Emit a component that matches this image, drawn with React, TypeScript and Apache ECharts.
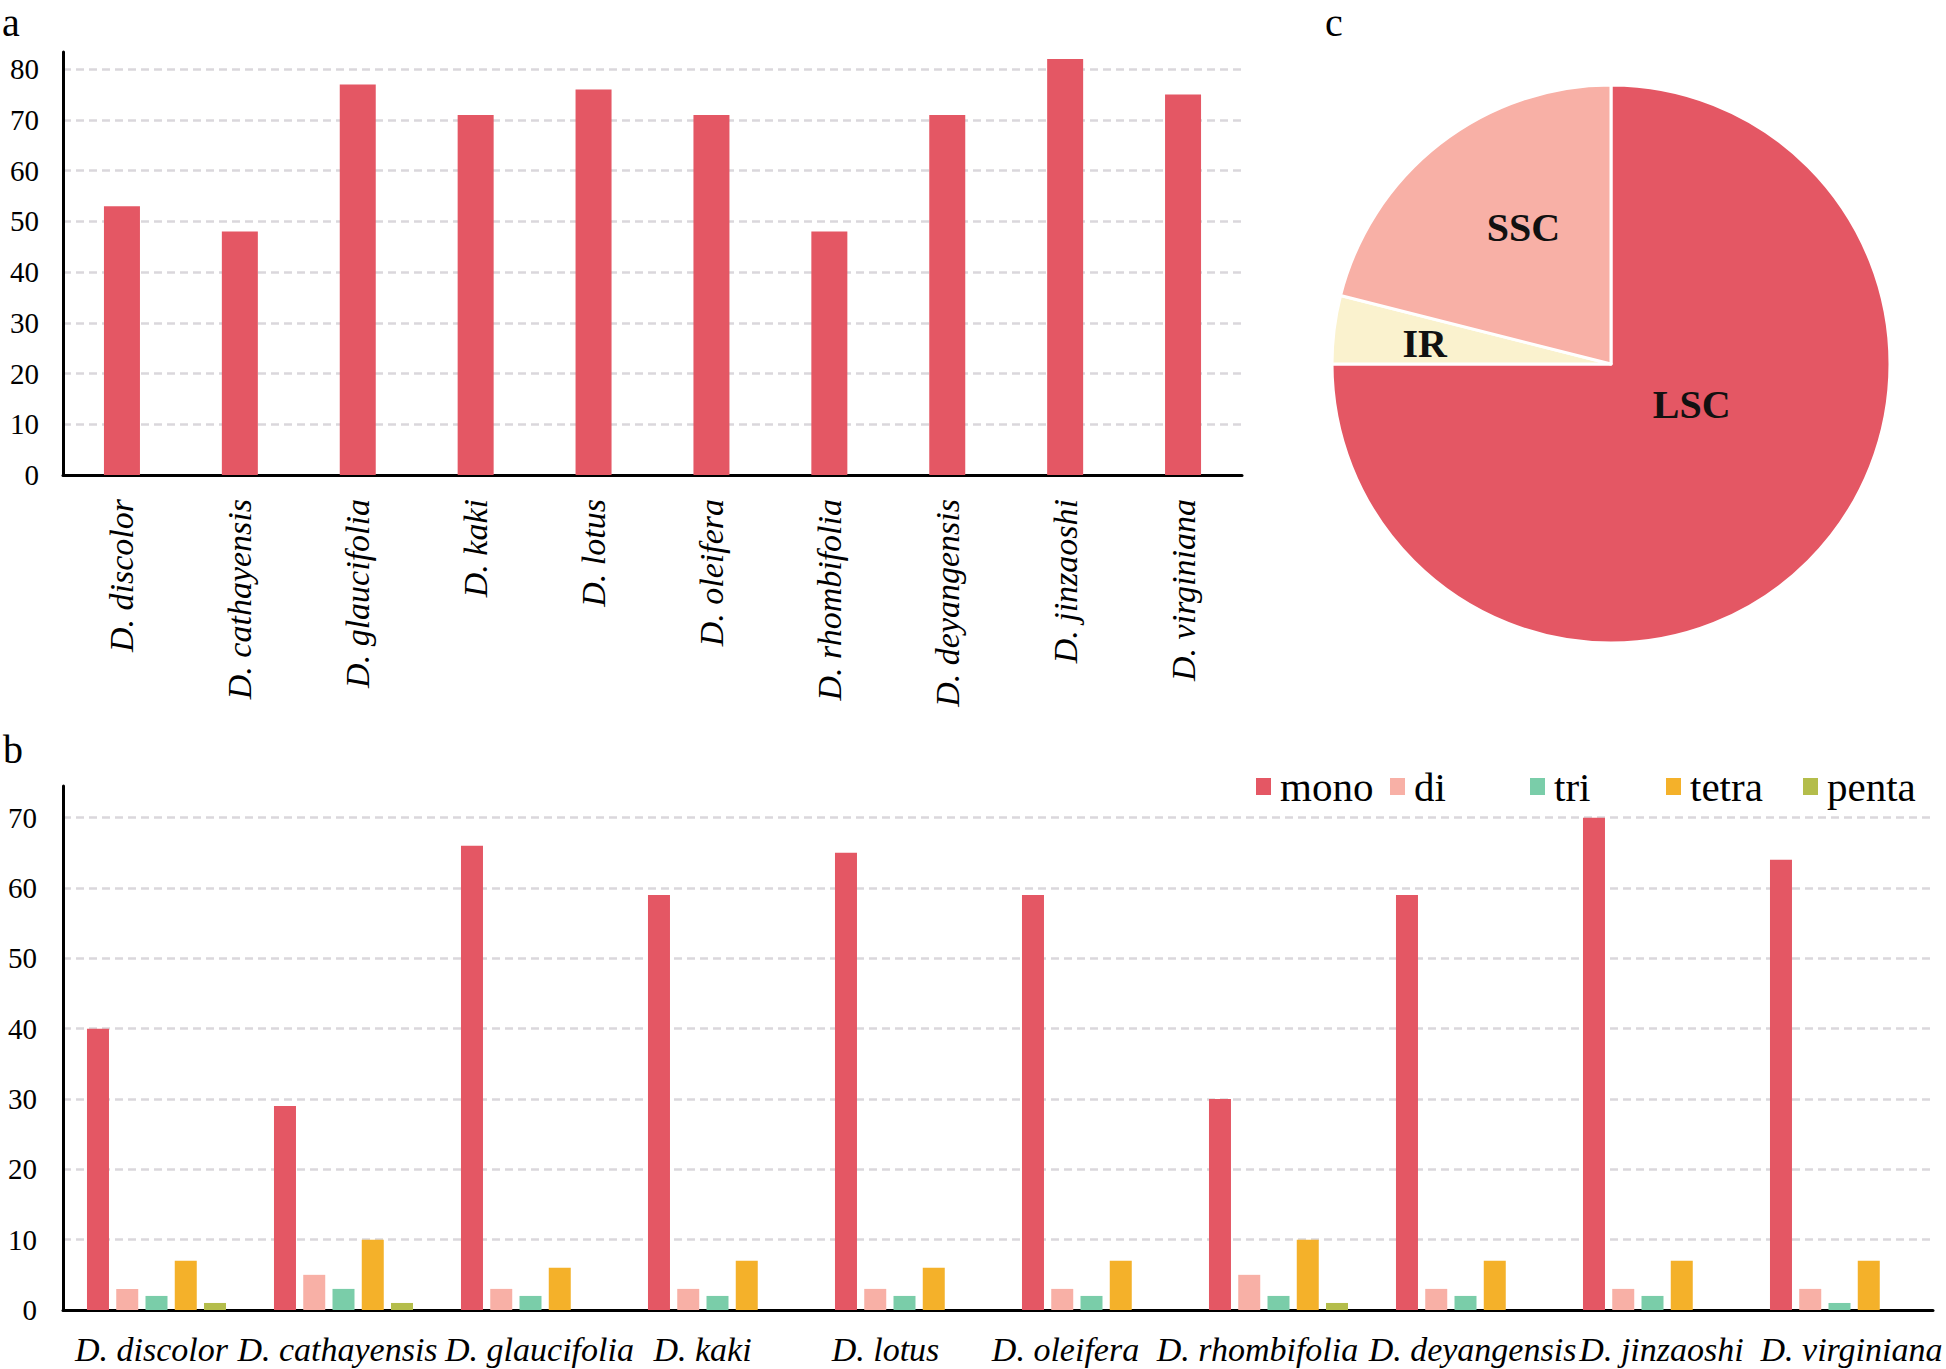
import React, { useEffect, useRef } from 'react';
import * as echarts from 'echarts';

const species = [
  'D. discolor', 'D. cathayensis', 'D. glaucifolia', 'D. kaki', 'D. lotus',
  'D. oleifera', 'D. rhombifolia', 'D. deyangensis', 'D. jinzaoshi', 'D. virginiana',
];
const totalSSR = [53, 48, 77, 71, 76, 71, 48, 71, 82, 75];
const mono = [40, 29, 66, 59, 65, 59, 30, 59, 70, 64];
const di = [3, 5, 3, 3, 3, 3, 5, 3, 3, 3];
const tri = [2, 3, 2, 2, 2, 2, 2, 2, 2, 1];
const tetra = [7, 10, 6, 7, 6, 7, 10, 7, 7, 7];
const penta = [1, 1, 0, 0, 0, 0, 1, 0, 0, 0];
const motifNames = ['mono', 'di', 'tri', 'tetra', 'penta'];
const regionNames = ['LSC', 'IR', 'SSC'];
const regionValues = [57, 3, 16];
const panelLetters = ['a', 'b', 'c'];

const FONT = 'Liberation Serif';
const C_MONO = '#E45764';
const C_DI = '#F8B0A6';
const C_TRI = '#7ACDA9';
const C_TETRA = '#F4B12A';
const C_PENTA = '#B4BD4B';
const C_IR = '#FAF2CE';
const GRID_LINE = { show: true, showMaxLine: false, lineStyle: { color: '#DAD7DC', width: 2.5, type: [8, 5] } };

// horizontal nudges (px) of the bottom-panel category labels, as in the reference
const labelNudge = [-5, -6, 9, -15, -19, -26, -21, 7, 9, 12];
// left edges of the legend items
const legendLeft = [1256, 1390, 1530, 1666, 1803];

export default function App() {
  const ref = useRef<HTMLDivElement>(null);
  useEffect(() => {
    const chart = echarts.init(ref.current!, null, { renderer: 'svg' });
    const motifData = [mono, di, tri, tetra, penta];
    const motifColors = [C_MONO, C_DI, C_TRI, C_TETRA, C_PENTA];
    const pieColors = [C_MONO, C_IR, C_DI];
    const labelShift = [
      { dx: -20, dy: -60 },
      { dx: -45, dy: -3 },
      { dx: 0, dy: -24 },
    ];
    const letterStyle = { fontFamily: FONT, fontSize: 40, fill: '#000', verticalAlign: 'middle' };
    const rich: Record<string, any> = {};
    labelNudge.forEach((d, i) => {
      rich['s' + i] = {
        fontFamily: FONT, fontStyle: 'italic', fontSize: 34, color: '#000',
        padding: d < 0 ? [0, -2 * d, 0, 0] : [0, 0, 0, 2 * d],
      };
    });
    chart.setOption({
      animation: false,
      backgroundColor: '#fff',
      textStyle: { fontFamily: FONT, color: '#000' },
      graphic: [
        { type: 'text', x: 2, y: 22, style: { text: panelLetters[0], ...letterStyle } },
        { type: 'text', x: 3, y: 749, style: { text: panelLetters[1], ...letterStyle } },
        { type: 'text', x: 1325, y: 22, style: { text: panelLetters[2], ...letterStyle } },
      ],
      legend: motifNames.map((n, i) => ({
        data: [n],
        left: legendLeft[i],
        top: 766,
        padding: 0,
        itemWidth: 15,
        itemHeight: 17,
        icon: 'rect',
        textStyle: { fontFamily: FONT, fontSize: 41, color: '#000', padding: [0, 0, 0, 4] },
      })),
      grid: [
        { left: 63, right: 704, top: 52, bottom: 894 },
        { left: 63, right: 13, top: 786, bottom: 59 },
      ],
      xAxis: [
        {
          type: 'category', gridIndex: 0, data: species,
          axisTick: { show: false },
          axisLine: { lineStyle: { color: '#000', width: 3 } },
          axisLabel: { rotate: 90, interval: 0, fontStyle: 'italic', fontSize: 34, margin: 24, color: '#000', fontFamily: FONT },
        },
        {
          type: 'category', gridIndex: 1, data: species,
          axisTick: { show: false },
          axisLine: { lineStyle: { color: '#000', width: 3 } },
          axisLabel: {
            interval: 0, fontStyle: 'italic', fontSize: 34, margin: 22, color: '#000', fontFamily: FONT,
            formatter: (v: string, i: number) => `{s${i}|${v}}`,
            rich,
          },
        },
      ],
      yAxis: [
        {
          type: 'value', gridIndex: 0, min: 0, max: 83.4, interval: 10,
          axisLine: { show: true, lineStyle: { color: '#000', width: 3 } },
          axisTick: { show: false },
          splitLine: GRID_LINE,
          axisLabel: { fontSize: 29, margin: 24, color: '#000', fontFamily: FONT, showMaxLabel: false },
        },
        {
          type: 'value', gridIndex: 1, min: 0, max: 74.5, interval: 10,
          axisLine: { show: true, lineStyle: { color: '#000', width: 3 } },
          axisTick: { show: false },
          splitLine: GRID_LINE,
          axisLabel: { fontSize: 29, margin: 26, color: '#000', fontFamily: FONT, showMaxLabel: false },
        },
      ],
      series: [
        {
          name: 'total', type: 'bar', xAxisIndex: 0, yAxisIndex: 0,
          data: totalSSR, barWidth: 36, itemStyle: { color: C_MONO },
        },
        ...motifNames.map((n, i) => ({
          name: n, type: 'bar', xAxisIndex: 1, yAxisIndex: 1,
          data: motifData[i], barWidth: 22, barGap: '33%',
          itemStyle: { color: motifColors[i] },
        })),
        {
          name: 'region', type: 'pie', center: [1611, 364], radius: 279,
          startAngle: 90, clockwise: true, avoidLabelOverlap: false,
          itemStyle: { borderColor: '#fff', borderWidth: 3 },
          label: { show: true, position: 'inside', formatter: '{b}', fontFamily: FONT, fontWeight: 'bold', fontSize: 40, color: '#111' },
          labelLine: { show: false },
          labelLayout: (p: any) => labelShift[p.dataIndex],
          data: regionNames.map((n, i) => ({ name: n, value: regionValues[i], itemStyle: { color: pieColors[i] } })),
        },
      ],
    });
    return () => chart.dispose();
  }, []);
  return <div ref={ref} style={{ position: 'absolute', left: 0, top: 0, width: 1946, height: 1369 }} />;
}
